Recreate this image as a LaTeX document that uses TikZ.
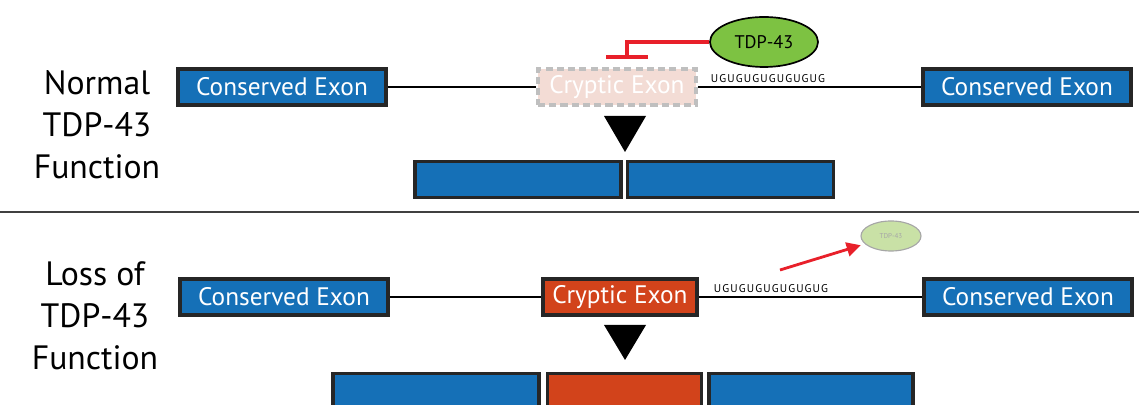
\documentclass[tikz,border=0pt]{standalone}
\usepackage{fontspec}
\setmainfont{PT Sans}
\usetikzlibrary{arrows.meta,shapes.geometric}

\definecolor{exonblue}{HTML}{1570B7}
\definecolor{crypticred}{HTML}{D2431B}
\definecolor{fadedpink}{HTML}{F3DCD5}
\definecolor{tdpgreen}{HTML}{7DC242}
\definecolor{tdpfaded}{HTML}{C9E1A6}
\definecolor{blockred}{HTML}{E8202A}

\begin{document}
\begin{tikzpicture}[x=0.025cm,y=-0.025cm,
    exon/.style={draw=black!85, line width=2.2pt, fill=exonblue, text=white,
        minimum width=5.2cm, minimum height=0.9cm, inner sep=0pt,
        font=\fontsize{18}{20}\selectfont},
    cryptic/.style={exon, fill=crypticred, minimum width=3.85cm},
    faded/.style={exon, fill=fadedpink, draw=black!25, line width=2.6pt,
        dash pattern=on 5pt off 3pt, minimum width=3.95cm},
    mrna/.style={draw=black!85, line width=2.2pt, fill=exonblue,
        minimum height=0.9cm, inner sep=0pt},
    intron/.style={black, line width=1pt},
    ugrepeat/.style={inner sep=0pt, font=\fontsize{8}{9}\selectfont\addfontfeatures{LetterSpace=10}},
    tdp/.style={ellipse, draw=black, line width=1.2pt, fill=tdpgreen,
        minimum width=2.7cm, minimum height=1.25cm, inner sep=0pt,
        font=\fontsize{13}{15}\selectfont},
    label/.style={align=center, font=\fontsize{24}{30}\selectfont}]
\useasboundingbox (0,0) rectangle (1139,405);

% normal TDP-43 function
\node[label] (normal) at (97,125) {Normal\\TDP-43\\Function};
\node[exon] (exonA) at (282,87) {Conserved Exon};
\node[faded] (crypA) at (617,87) {Cryptic Exon};
\node[exon] (exonB) at (1027,87) {Conserved Exon};
\draw[intron] (exonA) -- (crypA);
\draw[intron] (crypA) -- (exonB);
\node[ugrepeat] (repA) at (768,79) {UGUGUGUGUGUGUG};
\node[tdp] (tdpA) at (764,42) {TDP-43};
\coordinate (stopA) at (627,59);
\draw[blockred, line width=3pt, -{Bar[width=30pt,line width=3pt]}] (tdpA.west) -| (stopA);
\fill (604,116) -- (646,116) -- (625,152) -- cycle;
\node[mrna, minimum width=5.15cm] (mrnaA1) at (518,179.5) {};
\node[mrna, minimum width=5.15cm] (mrnaA2) at (730.5,179.5) {};

% divider
\draw[black!75, line width=2pt] (0,212) -- (1139,212);

% loss of TDP-43 function
\node[label] (loss) at (95,316) {Loss of\\TDP-43\\Function};
\node[exon] (exonC) at (284,297) {Conserved Exon};
\node[cryptic] (crypB) at (620,297) {Cryptic Exon};
\node[exon] (exonD) at (1028,297) {Conserved Exon};
\draw[intron] (exonC) -- (crypB);
\draw[intron] (crypB) -- (exonD);
\node[ugrepeat] (repB) at (771,289) {UGUGUGUGUGUGUG};
\node[tdp, fill=tdpfaded, draw=black!35, line width=0.8pt, minimum width=1.5cm,
    minimum height=0.75cm, text=black!35, font=\fontsize{5}{6}\selectfont] (tdpB) at (891,236) {TDP-43};
\coordinate (pullB) at (780,270);
\draw[blockred, line width=2pt, -{Triangle[length=10pt,width=10pt]}, shorten >=3pt] (pullB) -- (tdpB);
\fill (604,325) -- (646,325) -- (625,360) -- cycle;
\node[mrna, minimum width=5.15cm] (mrnaB1) at (436,391.5) {};
\node[mrna, fill=crypticred, minimum width=3.85cm] (mrnaB2) at (624.5,391.5) {};
\node[mrna, minimum width=5.1cm] (mrnaB3) at (811,391.5) {};
\end{tikzpicture}
\end{document}
